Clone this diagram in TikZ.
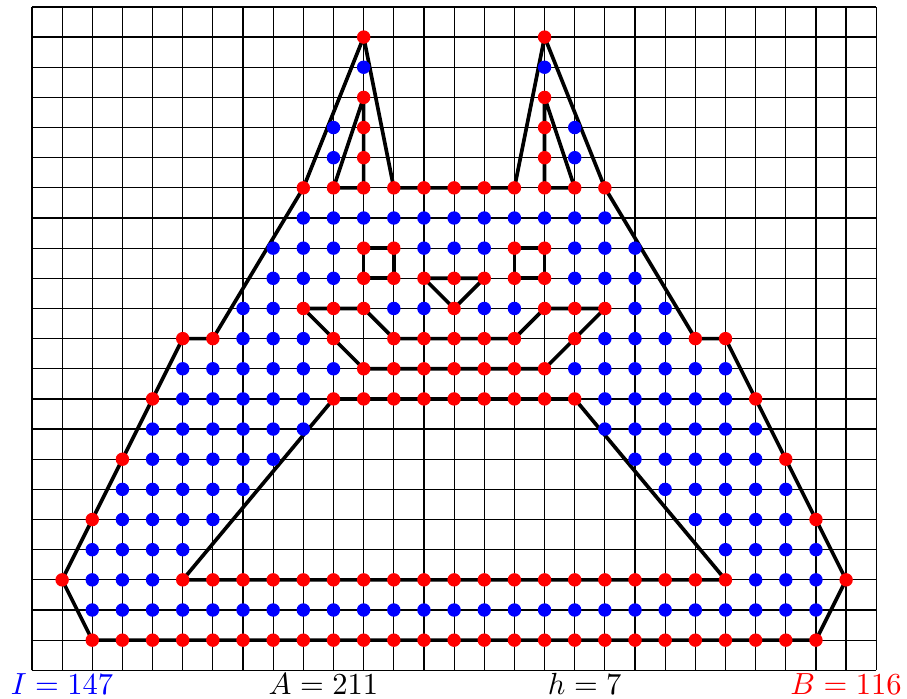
\documentclass[tikz,border=0pt]{standalone}
\usepackage{amsmath,amssymb}
\usepackage{xcolor}
\usepackage{tikz}

\begin{document}
\begin{tikzpicture}[x=0.347cm,y=0.347cm,
  edge/.style={line width=1.2pt,line join=round},
  bpt/.style={fill=red},
  ipt/.style={fill=blue}]
  \useasboundingbox (-1.06,-0.92) rectangle (29.02,22.23);
  % lattice
  \draw[line width=0.4pt,step={(1,1)}] (0,0) grid (28,22);
  % outer boundary
  \draw[edge] (2,1) -- (26,1) -- (27,3) -- (23,11) -- (22,11) -- (19,16) -- (17,21)
    -- (16,16) -- (12,16) -- (11,21) -- (9,16) -- (6,11) -- (5,11) -- (1,3) -- cycle;
  % holes
  \draw[edge] (10,16) -- (11,16) -- (11,19) -- cycle;
  \draw[edge] (17,16) -- (18,16) -- (17,19) -- cycle;
  \draw[edge] (11,13) rectangle (12,14);
  \draw[edge] (16,13) rectangle (17,14);
  \draw[edge] (13,13) -- (15,13) -- (14,12) -- cycle;
  \draw[edge] (9,12) -- (11,12) -- (12,11) -- (16,11) -- (17,12) -- (19,12)
    -- (17,10) -- (11,10) -- cycle;
  \draw[edge] (5,3) -- (23,3) -- (18,9) -- (10,9) -- cycle;
  % interior points
  \foreach \y/\xs in {2/{2,...,26}, 3/{2,3,4,24,25,26}, 4/{2,3,4,5,23,24,25,26},
      5/{3,4,5,6,22,23,24,25}, 6/{3,...,7,21,22,...,25}, 7/{4,...,8,20,21,...,24},
      8/{4,...,9,19,20,...,24}, 9/{5,...,9,19,20,...,23}, 10/{5,...,10,18,19,...,23},
      11/{7,8,9,19,20,21}, 12/{7,8,12,13,15,16,20,21}, 13/{8,9,10,18,19,20},
      14/{8,9,10,13,14,15,18,19,20}, 15/{9,...,19}, 17/{10,18}, 18/{10,18},
      20/{11,17}}
    \foreach \x in \xs
      \fill[ipt] (\x,\y) circle (2.2pt);
  % boundary points
  \foreach \y/\xs in {1/{2,...,26}, 3/{1,5,6,...,23,27}, 5/{2,26}, 7/{3,25},
      9/{4,10,11,...,18,24}, 10/{11,...,17}, 11/{5,6,10,12,13,14,15,16,18,22,23},
      12/{9,10,11,14,17,18,19}, 13/{11,...,17}, 14/{11,12,16,17},
      16/{9,...,19}, 17/{11,17}, 18/{11,17}, 19/{11,17}, 21/{11,17}}
    \foreach \x in \xs
      \fill[bpt] (\x,\y) circle (2.2pt);
  % counts
  \node[blue] (intcount) at (1,-0.45) {$I=147$};
  \node (area) at (9.667,-0.45) {$A=211$};
  \node (holes) at (18.333,-0.45) {$h=7$};
  \node[red] (bdcount) at (27,-0.45) {$B=116$};
\end{tikzpicture}
\end{document}
